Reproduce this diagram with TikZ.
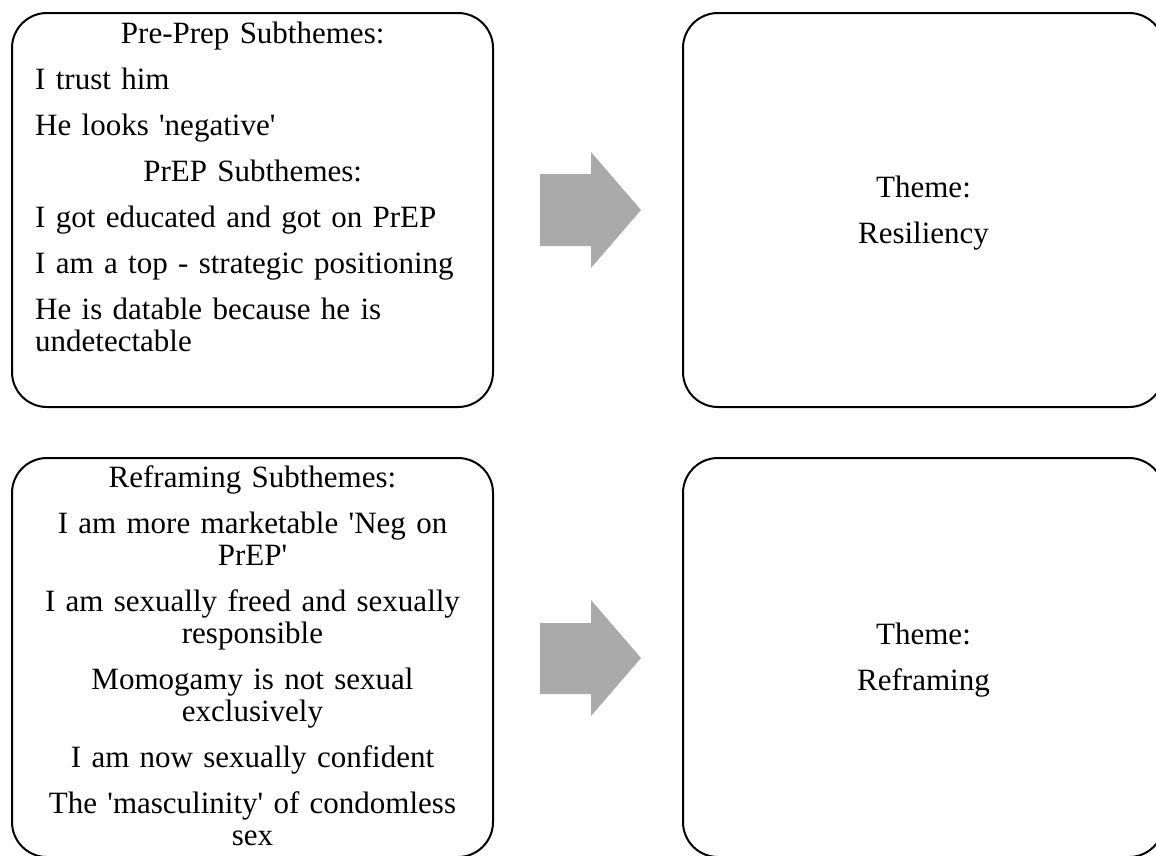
\documentclass[tikz,border=0pt]{standalone}
\usepackage{fontspec}
\setmainfont{Liberation Serif}
\definecolor{arrowgray}{RGB}{170,170,170}
\tikzset{
  themebox/.style={draw=black, line width=2pt, rounded corners=35pt, fill=none},
  boxtext/.style={inner sep=0pt, font=\fontsize{31}{32}\selectfont},
  bigarrow/.style={fill=arrowgray, draw=none},
}
\newcommand{\sq}{\textquotesingle}
\begin{document}
\begin{tikzpicture}[x=1pt,y=-1pt]
\useasboundingbox (0,0) rectangle (1156,855);
% boxes
\draw[themebox] (12,13) rectangle (493,407);
\draw[themebox] (683,13) rectangle (1164,407);
\draw[themebox] (12,458) rectangle (493,857);
\draw[themebox] (683,458) rectangle (1164,857);
% arrows
\fill[bigarrow] (540,174) -- (591,174) -- (591,152) -- (641,210) -- (591,268) -- (591,246) -- (540,246) -- cycle;
\fill[bigarrow] (540,623) -- (591,623) -- (591,600) -- (641,658) -- (591,716) -- (591,694) -- (540,694) -- cycle;
% top-left text
\node[boxtext, text width=435pt, anchor=base west] (pp) at (35,43) {%
\setlength{\parskip}{14pt}\raggedright
{\centering Pre-Prep Subthemes:\par}
I trust him\par
He looks \sq negative\sq\par
{\centering PrEP Subthemes:\par}
I got educated and got on PrEP\par
I am a top - strategic positioning\par
He is datable because he is\\undetectable\par};
% bottom-left text
\node[boxtext, text width=460pt, align=center, anchor=base] (rf) at (252.5,487) {%
\setlength{\parskip}{14pt}%
Reframing Subthemes:\par
I am more marketable \sq Neg on\\PrEP\sq\par
I am sexually freed and sexually\\responsible\par
Momogamy is not sexual\\exclusively\par
I am now sexually confident\par
The \sq masculinity\sq{} of condomless\\sex\par};
% right texts
\node[boxtext, text width=400pt, align=center, anchor=base] (t1) at (923.5,197) {%
\setlength{\parskip}{14pt}%
Theme:\par Resiliency\par};
\node[boxtext, text width=400pt, align=center, anchor=base] (t2) at (923.5,644) {%
\setlength{\parskip}{14pt}%
Theme:\par Reframing\par};
\end{tikzpicture}
\end{document}
